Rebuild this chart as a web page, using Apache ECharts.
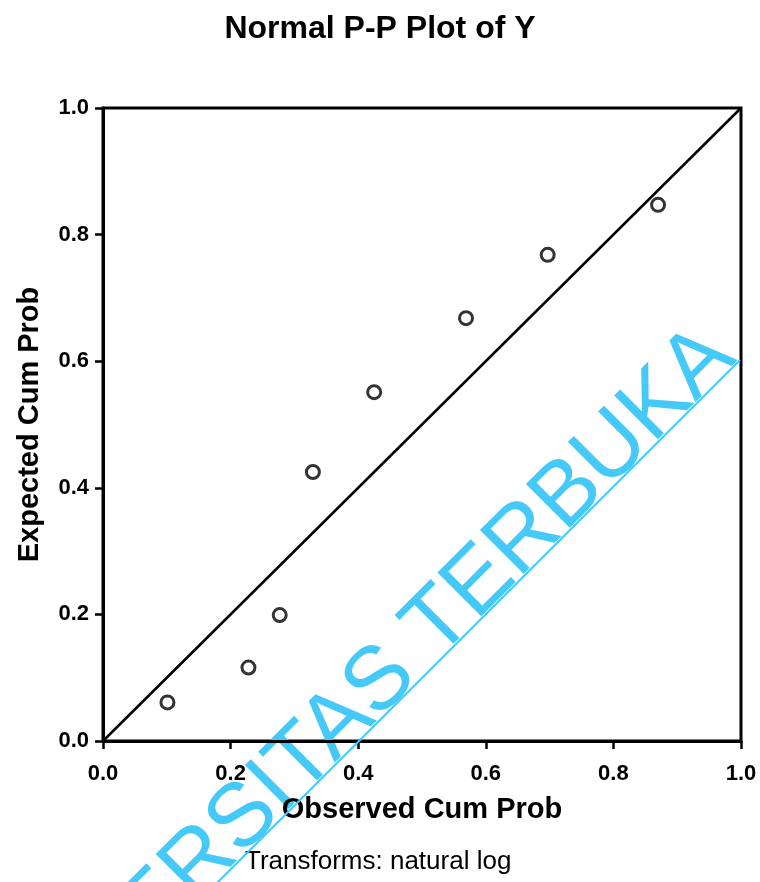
<!DOCTYPE html>
<html>
<head>
<meta charset="utf-8">
<script src="https://cdn.jsdelivr.net/npm/echarts@6/dist/echarts.min.js"></script>
<style>
html,body{margin:0;padding:0;background:#fff;}
#main{width:760px;height:882px;}
</style>
</head>
<body>
<div id="main"></div>
<script>
var titleText = 'Normal P-P Plot of Y';
var xAxisName = 'Observed Cum Prob';
var yAxisName = 'Expected Cum Prob';
var footnote = 'Transforms: natural log';
var watermark = 'UNIVERSITAS TERBUKA';
var observedCumProb = [0.101, 0.228, 0.277, 0.329, 0.425, 0.569, 0.697, 0.870];
var expectedCumProb = [0.061, 0.116, 0.199, 0.425, 0.551, 0.668, 0.768, 0.847];
var refLine = [[0, 0], [1, 1]];

var points = observedCumProb.map(function (v, i) { return [v, expectedCumProb[i]]; });

var chart = echarts.init(document.getElementById('main'));
var FONT = '"Liberation Sans", Arial, sans-serif';
var axisCommon = {
  type: 'value', min: 0, max: 1, interval: 0.2,
  axisLine: { show: true, lineStyle: { color: '#000', width: 3 } },
  axisTick: { show: true, length: 8, lineStyle: { color: '#000', width: 2.5 } },
  splitLine: { show: false },
  axisLabel: { color: '#000', fontFamily: FONT, fontWeight: 'bold', fontSize: 22,
    formatter: function (v) { return v.toFixed(1); } },
  nameLocation: 'middle',
  nameTextStyle: { color: '#000', fontFamily: FONT, fontWeight: 'bold', fontSize: 29 }
};
chart.setOption({
  backgroundColor: '#fff',
  animation: false,
  title: {
    text: titleText, left: 'center', top: 8,
    textStyle: { color: '#000', fontFamily: FONT, fontWeight: 'bold', fontSize: 32 }
  },
  grid: { left: 103, right: 19, top: 108, bottom: 141, show: true, borderColor: '#000', borderWidth: 3, backgroundColor: 'transparent' },
  xAxis: Object.assign({}, axisCommon, { name: xAxisName, nameGap: 54,
    axisLabel: Object.assign({}, axisCommon.axisLabel, { margin: 22 }) }),
  yAxis: Object.assign({}, axisCommon, { name: yAxisName, nameGap: 59,
    axisLabel: Object.assign({}, axisCommon.axisLabel, { margin: 14 }) }),
  series: [
    { type: 'line', data: refLine, symbol: 'none', lineStyle: { color: '#000', width: 2.5 }, z: 2 },
    { type: 'scatter', data: points, symbol: 'circle', symbolSize: 13,
      itemStyle: { color: '#fff', borderColor: '#000', borderWidth: 3 }, z: 3 }
  ],
  graphic: [
    { type: 'text', left: 245, top: 849,
      style: { text: footnote, fill: '#000', font: '26px ' + FONT } },
    { type: 'line', silent: true, z: 100,
      shape: { x1: 200, y1: 900, x2: 740, y2: 360 },
      style: { stroke: '#45C9F8', lineWidth: 2 } },
    { type: 'group', x: 735, y: 357, rotation: Math.PI / 4, z: 100, silent: true,
      children: [
        { type: 'text', x: 0, y: -21,
          style: { text: watermark, fill: '#45C9F8', font: '90px ' + FONT,
            textAlign: 'right', textVerticalAlign: 'middle' } }
      ] }
  ]
});
</script>
</body>
</html>
